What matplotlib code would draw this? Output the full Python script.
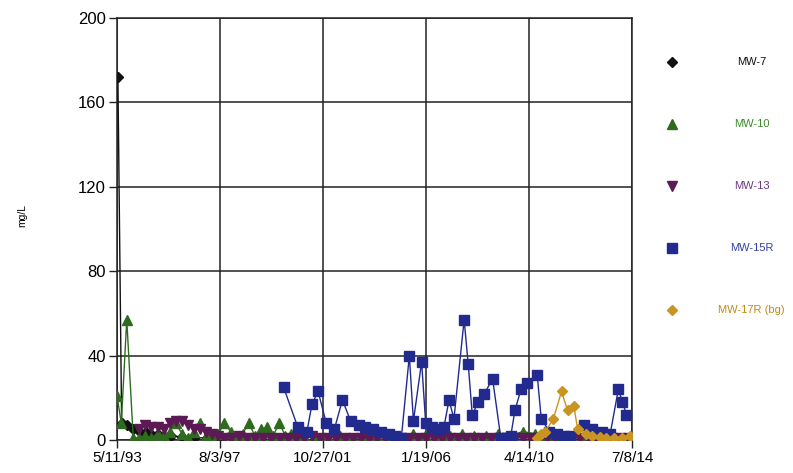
import numpy as np
import pandas as pd
import matplotlib
matplotlib.use('Agg')
import matplotlib.pyplot as plt
from matplotlib.lines import Line2D

plt.rcParams['font.family'] = ['Liberation Sans', 'DejaVu Sans']

# MW-7 (black diamonds)
mw7_dates = ['1993-05-25', '1993-07-20', '1993-10-15', '1994-01-10', '1994-04-20', '1994-07-15',
             '1994-10-10', '1995-01-20', '1995-04-15', '1995-08-01', '1996-01-15', '1996-07-10',
             '1997-01-15', '1997-07-10']
mw7_vals = [172, 8, 7, 5, 4, 4, 3, 3, 2, 2, 1.5, 1, 1, 1]

# MW-10 (green triangles)
mw10_dates = ['1993-05-11', '1993-07-15', '1993-10-05', '1994-01-10', '1994-04-10', '1994-07-10',
              '1994-10-10', '1995-01-10', '1995-04-10', '1995-07-10', '1995-10-10', '1996-01-10',
              '1996-04-10', '1996-07-10', '1996-10-10', '1997-01-10', '1997-04-10', '1997-07-10',
              '1997-10-10', '1998-01-10', '1998-04-10', '1998-07-10', '1998-10-10', '1999-01-10',
              '1999-04-10', '1999-07-10', '1999-10-10', '2000-01-10', '2000-04-10', '2000-07-10',
              '2000-10-10', '2001-01-10', '2001-07-10', '2002-01-10', '2002-07-10', '2003-01-10',
              '2003-07-10', '2004-01-10', '2004-07-10', '2005-01-10', '2005-07-10', '2006-01-10',
              '2006-07-10', '2007-01-10', '2007-07-10', '2008-01-10', '2008-07-10', '2009-01-10',
              '2009-07-10', '2010-01-10', '2010-07-10', '2011-01-10', '2011-07-10', '2012-01-10',
              '2012-07-10', '2013-01-10', '2013-07-10', '2014-01-10', '2014-06-10']
mw10_vals = [21, 8, 57, 1, 1, 2, 1, 3, 2, 4, 8, 3, 1, 4, 8, 2, 1, 3, 8, 4, 1, 3, 8, 2, 5, 6, 2, 8,
             2, 3, 1, 2, 1, 1, 2, 1, 1, 1, 2, 1, 3, 2, 3, 2, 3, 2, 2, 3, 2, 4, 3, 1, 1, 1, 1, 1,
             1, 1, 1]

# MW-13 (purple down triangles)
mw13_dates = ['1994-04-10', '1994-07-10', '1994-10-10', '1995-01-10', '1995-04-10', '1995-07-10',
              '1995-10-10', '1996-01-10', '1996-04-10', '1996-07-10', '1996-10-10', '1997-01-10',
              '1997-04-10', '1997-07-10', '1997-10-10',
              '1998-01-15', '1998-05-15', '1998-09-15', '1999-01-15', '1999-05-15', '1999-09-15',
              '2000-01-15', '2000-05-15', '2000-09-15', '2001-01-15', '2001-05-15', '2001-09-15',
              '2002-01-15', '2002-05-15', '2002-09-15', '2003-01-15', '2003-05-15', '2003-09-15',
              '2004-01-15', '2004-05-15', '2004-09-15', '2005-01-15', '2005-05-15', '2005-09-15',
              '2006-01-15', '2006-05-15', '2006-09-15', '2007-01-15', '2007-05-15', '2007-09-15',
              '2008-01-15', '2008-05-15', '2008-09-15', '2009-01-15', '2009-05-15', '2009-09-15',
              '2010-01-15', '2010-05-15', '2010-09-15', '2011-01-15', '2011-05-15', '2011-09-15',
              '2012-01-15', '2012-05-15', '2012-09-15', '2013-01-15', '2013-05-15', '2013-09-15',
              '2014-01-15', '2014-05-15']
mw13_vals = [5, 7, 6, 6, 5, 8, 9, 9, 7, 5, 5, 4, 3, 2, 1,
             1, 2, 1, 1, 1, 1, 1, 1, 1, 1, 2, 1, 1, 1, 1, 1, 1, 1, 1, 1, 1, 1, 1, 1,
             1, 1, 1, 1, 1, 1, 1, 1, 1, 1, 1, 1, 1, 1, 1, 1, 1, 1, 1, 1, 1, 1, 1, 1, 1, 1]

# MW-15R (blue squares)
mw15_dates = ['2000-03-15', '2000-10-15', '2001-03-01', '2001-05-15', '2001-08-15', '2001-12-15',
              '2002-04-15', '2002-08-15', '2002-12-15', '2003-04-15', '2003-07-15', '2003-11-15',
              '2004-03-15', '2004-07-15', '2004-10-15', '2005-01-15', '2005-05-15', '2005-07-15',
              '2005-11-15', '2006-01-15', '2006-04-15', '2006-07-15', '2006-10-15', '2007-01-01',
              '2007-03-15', '2007-08-15', '2007-10-15', '2007-12-15', '2008-03-15', '2008-06-15',
              '2008-10-15', '2009-02-15', '2009-05-15', '2009-07-15', '2009-09-15', '2009-12-15',
              '2010-03-15', '2010-08-15', '2010-10-15', '2011-02-15', '2011-06-15', '2011-09-15',
              '2011-12-15', '2012-07-15', '2012-11-15', '2013-04-15', '2013-08-15', '2013-12-15',
              '2014-02-15', '2014-04-15']
mw15_vals = [25, 6, 4, 17, 23, 8, 5, 19, 9, 7, 6, 5, 4, 3, 2, 1, 40, 9, 37, 8, 6, 5, 6, 19, 10,
             57, 36, 12, 18, 22, 29, 1, 1, 2, 14, 24, 27, 31, 10, 4, 3, 2, 2, 7, 5, 4, 3, 24, 18, 12]

# MW-17R (bg) (gold diamonds)
mw17_dates = ['2010-08-15', '2010-10-15', '2010-12-15', '2011-04-15', '2011-08-15', '2011-11-15',
              '2012-02-15', '2012-04-15', '2012-08-15', '2012-11-15', '2013-03-15', '2013-06-15',
              '2013-10-15', '2014-02-15', '2014-06-15']
mw17_vals = [1, 3, 4, 10, 23, 14, 16, 5, 3, 2, 1.5, 1, 1, 1, 2]

tick_dates = ['1993-05-11', '1997-08-03', '2001-10-27', '2006-01-19', '2010-04-14', '2014-07-08']
tick_labels = ['5/11/93', '8/3/97', '10/27/01', '1/19/06', '4/14/10', '7/8/14']

series = [
    ('MW-7', mw7_dates, mw7_vals, 'D', 5, '#111111', '#111111'),
    ('MW-10', mw10_dates, mw10_vals, '^', 7, '#2f6b1f', '#3d8a2e'),
    ('MW-13', mw13_dates, mw13_vals, 'v', 7, '#5c1a55', '#6b3a86'),
    ('MW-15R', mw15_dates, mw15_vals, 's', 7.5, '#222a8e', '#3540a0'),
    ('MW-17R (bg)', mw17_dates, mw17_vals, 'D', 5.5, '#c99420', '#c08a1c'),
]

fig = plt.figure(figsize=(7.93, 4.73), dpi=100)
ax = fig.add_axes([0.1475, 0.0698, 0.6495, 0.8922])

for name, d, v, m, ms, c, tc in series:
    ax.plot(pd.to_datetime(d), v, color=c, marker=m, markersize=ms, linewidth=1.0,
            markeredgecolor=c, markerfacecolor=c, zorder=3)

ax.set_ylim(0, 200)
ax.set_yticks([0, 40, 80, 120, 160, 200])
ax.set_xlim(pd.Timestamp(tick_dates[0]), pd.Timestamp(tick_dates[-1]))
ax.set_xticks(pd.to_datetime(tick_dates))
ax.set_xticklabels(tick_labels)
ax.grid(True, color='#222222', linewidth=1.1)
for s in ax.spines.values():
    s.set_color('#222222')
    s.set_linewidth(1.1)
ax.tick_params(axis='both', labelsize=11, color='#222222', length=6, width=1)
ax.tick_params(axis='y', labelsize=12, pad=2)
ax.tick_params(axis='x', pad=2)
fig.text(0.028, 0.545, 'mg/L', rotation=90, ha='center', va='center', fontsize=7.5)

# legend on the right
leg_y = [0.869, 0.738, 0.607, 0.476, 0.345]
for (name, d, v, m, ms, c, tc), y in zip(series, leg_y):
    fig.add_artist(Line2D([0.847], [y], transform=fig.transFigure, marker=m, markersize=ms,
                          color=c, linestyle='none'))
    fig.text(0.948, y, name, color=tc, ha='center', va='center', fontsize=8)

fig.savefig('out.png', dpi=100)
